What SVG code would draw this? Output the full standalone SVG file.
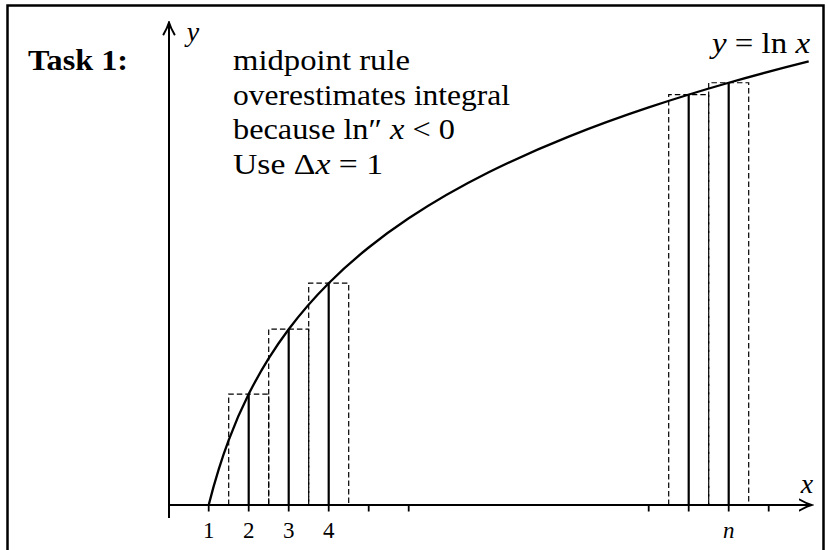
<svg xmlns="http://www.w3.org/2000/svg" width="828" height="550" viewBox="0 0 828 550">
<style>
.ax{stroke:#000;stroke-width:2;fill:none}
.curve{stroke:#000;stroke-width:2.3;fill:none}
.solid{stroke:#000;stroke-width:2.2;fill:none}
.dash{stroke:#000;stroke-width:1.2;fill:none;stroke-dasharray:5.5 3}
.tick{stroke:#000;stroke-width:1.8}
.t{font-family:"Liberation Serif","Times New Roman",serif;fill:#000}
.it{font-style:italic}
</style>
<defs>
<marker id="arr" viewBox="-13 -7 15 14" refX="0" refY="0" markerWidth="15" markerHeight="14" markerUnits="userSpaceOnUse" orient="auto">
<path d="M-12,-5.5 Q-5,-1.5 0,0 Q-5,1.5 -12,5.5" stroke="#000" stroke-width="2" fill="none" stroke-linecap="round"/>
</marker>
</defs>
<rect width="828" height="550" fill="#fff"/>
<path id="frame" d="M7.5,550 V5.5 H823.5 V550" stroke="#000" stroke-width="2.5" fill="none"/>

<g id="axes">
<line class="ax" x1="169" y1="505" x2="811.5" y2="505" marker-end="url(#arr)"/>
<line class="ax" x1="169" y1="518" x2="169" y2="22.5" marker-end="url(#arr)"/>
<g id="ticks">
<line class="tick" x1="208.7" y1="505" x2="208.7" y2="511.5"/>
<line class="tick" x1="248.7" y1="505" x2="248.7" y2="511.5"/>
<line class="tick" x1="288.7" y1="505" x2="288.7" y2="511.5"/>
<line class="tick" x1="328.7" y1="505" x2="328.7" y2="511.5"/>
<line class="tick" x1="368.7" y1="505" x2="368.7" y2="511.5"/>
<line class="tick" x1="408.7" y1="505" x2="408.7" y2="511.5"/>
<line class="tick" x1="648.7" y1="505" x2="648.7" y2="511.5"/>
<line class="tick" x1="688.7" y1="505" x2="688.7" y2="511.5"/>
<line class="tick" x1="728.7" y1="505" x2="728.7" y2="511.5"/>
<line class="tick" x1="768.7" y1="505" x2="768.7" y2="511.5"/>
</g>
<text class="t it" x="807" y="493" font-size="28" text-anchor="middle">x</text>
<text class="t it" x="193" y="41" font-size="28" text-anchor="middle">y</text>
</g>

<g id="rectangles">
<path class="dash" d="M228.7,505 V394.1 H268.7 V505"/>
<path class="dash" d="M268.7,505 V329.22 H308.7 V505"/>
<path class="dash" d="M308.7,505 V283.19 H348.7 V505"/>
<path class="dash" d="M668.7,505 V94.61 H708.7 V505"/>
<path class="dash" d="M708.7,505 V82.75 H748.7 V505"/>
</g>

<g id="midpoints">
<line class="solid" x1="248.7" y1="505" x2="248.7" y2="394.1"/>
<line class="solid" x1="288.7" y1="505" x2="288.7" y2="329.22"/>
<line class="solid" x1="328.7" y1="505" x2="328.7" y2="283.19"/>
<line class="solid" x1="688.7" y1="505" x2="688.7" y2="94.61"/>
<line class="solid" x1="728.7" y1="505" x2="728.7" y2="82.75"/>
</g>

<path id="lncurve" class="curve" d="M208.7,505 C212.03,491.67 215.37,479.97 218.7,469.3 C222.03,458.63 225.37,449.01 228.7,440.12 C235.37,422.34 242.03,407.43 248.7,394.1 C255.37,380.77 262.03,369.06 268.7,358.39 C275.37,347.72 282.03,338.11 288.7,329.22 C302.03,311.44 315.37,296.52 328.7,283.19 C342.03,269.86 355.37,258.16 368.7,247.49 C382.03,236.82 395.37,227.21 408.7,218.32 C435.37,200.54 462.03,185.62 488.7,172.29 C515.37,158.96 542.03,147.26 568.7,136.59 C595.37,125.92 622.03,116.3 648.7,107.41 C675.37,98.52 702.03,90.37 728.7,82.75 C755.37,75.13 782.03,68.06 808.7,61.39"/>

<g id="ticklabels" class="t" font-size="23" text-anchor="middle">
<text x="208.7" y="538">1</text>
<text x="248.7" y="538">2</text>
<text x="288.7" y="538">3</text>
<text x="328.7" y="538">4</text>
<text class="it" x="728.7" y="538">n</text>
</g>

<g id="labels">
<text class="t" x="28" y="70" font-size="30" font-weight="bold" textLength="100" lengthAdjust="spacingAndGlyphs">Task 1:</text>
<text class="t" x="712" y="52.5" font-size="30" textLength="98" lengthAdjust="spacingAndGlyphs"><tspan class="it">y</tspan> = ln <tspan class="it">x</tspan></text>
<text class="t" x="233" y="70" font-size="30" textLength="177" lengthAdjust="spacingAndGlyphs">midpoint rule</text>
<text class="t" x="233" y="104.5" font-size="30" textLength="277" lengthAdjust="spacingAndGlyphs">overestimates integral</text>
<text class="t" x="233" y="139" font-size="30" textLength="222" lengthAdjust="spacingAndGlyphs">because ln″ <tspan class="it">x</tspan> &lt; 0</text>
<text class="t" x="233" y="173.5" font-size="30" textLength="150" lengthAdjust="spacingAndGlyphs">Use Δ<tspan class="it">x</tspan> = 1</text>
</g>
</svg>
